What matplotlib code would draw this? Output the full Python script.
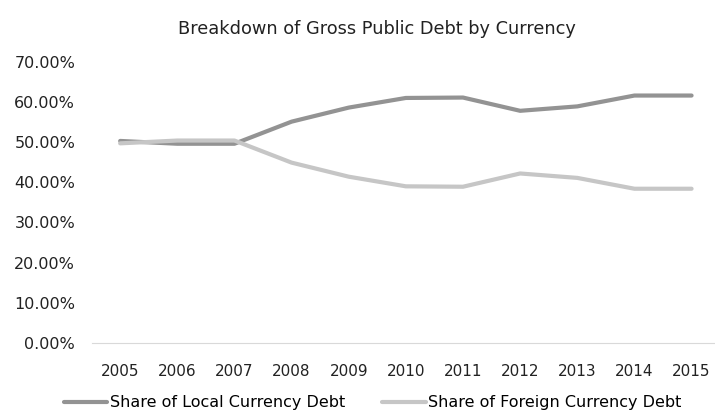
import matplotlib
matplotlib.use('Agg')
import matplotlib.pyplot as plt
from matplotlib.ticker import FuncFormatter

years = ['2005', '2006', '2007', '2008', '2009', '2010', '2011', '2012', '2013', '2014', '2015']
local_share = [50.3, 49.6, 49.6, 55.1, 58.6, 61.0, 61.1, 57.8, 58.9, 61.6, 61.6]
foreign_share = [49.7, 50.4, 50.4, 44.9, 41.4, 39.0, 38.9, 42.2, 41.1, 38.4, 38.4]

matplotlib.rcParams.update({'font.size': 11, 'font.family': 'DejaVu Sans'})

fig = plt.figure(figsize=(7.15, 4.12), dpi=100)
ax = fig.add_axes([0.1285, 0.1675, 0.8715, 0.6825])

x = range(len(years))
ax.plot(x, [v / 100 for v in local_share], color='#939393', lw=3.0,
        solid_capstyle='round', label='Share of Local Currency Debt')
ax.plot(x, [v / 100 for v in foreign_share], color='#c6c6c6', lw=3.0,
        solid_capstyle='round', label='Share of Foreign Currency Debt')

ax.set_ylim(0, 0.7)
ax.set_xlim(-0.495, 10.41)
ax.set_yticks([i / 10 for i in range(8)])
ax.yaxis.set_major_formatter(FuncFormatter(lambda v, p: '%.2f%%' % (v * 100)))
ax.set_xticks(list(x))
ax.set_xticklabels(years)
ax.tick_params(length=0, labelsize=11, colors='#222222')
ax.tick_params(axis='y', labelsize=11.5, pad=12)
ax.tick_params(axis='x', pad=15)

for s in ['top', 'right', 'left']:
    ax.spines[s].set_visible(False)
ax.spines['bottom'].set_color('#d9d9d9')

fig.suptitle('Breakdown of Gross Public Debt by Currency', x=0.527, y=0.952, fontsize=12.8, color='#222222')

fig.legend(loc='center', bbox_to_anchor=(0.521, 0.022), ncol=2, frameon=False,
           fontsize=11.5, handlelength=2.75, handletextpad=0.15, columnspacing=2.3)

plt.savefig('out.png', dpi=100)
